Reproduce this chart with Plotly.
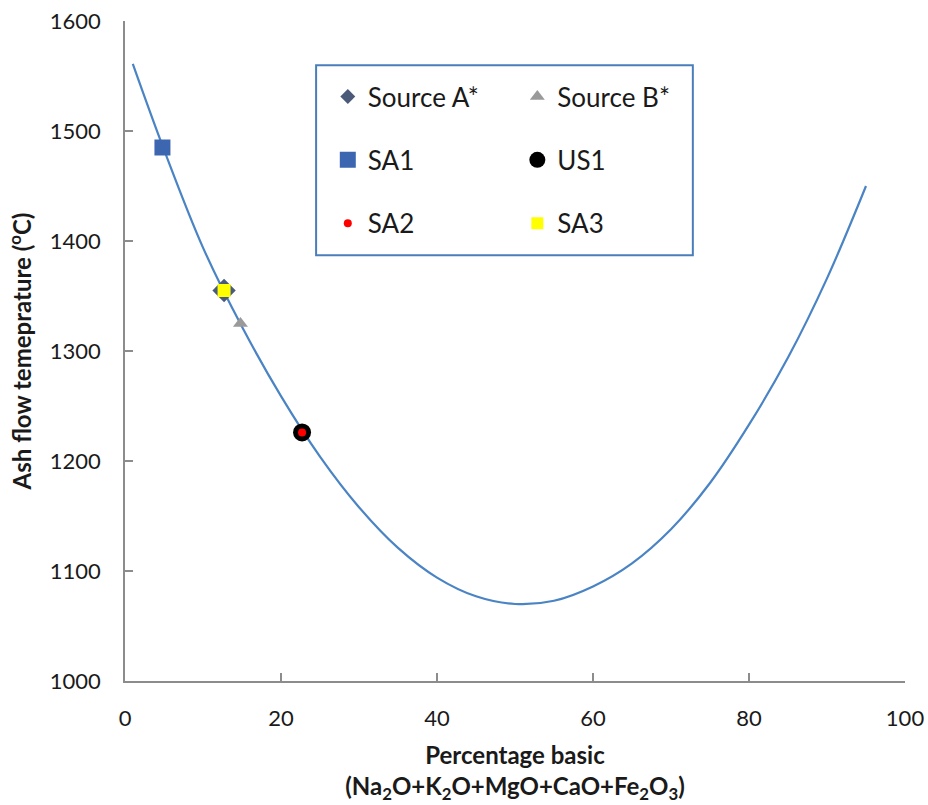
import plotly.graph_objects as go

# Curve
curve_x = [1, 5, 10, 15, 20, 25, 30, 35, 40, 45, 50, 55, 60, 65, 70, 75, 80, 85, 90, 95]
curve_y = [1561, 1483, 1394, 1322, 1259, 1204, 1158, 1121, 1094, 1077, 1070, 1073, 1086, 1107, 1138, 1180, 1233, 1294, 1366, 1450]

# Sample points
names = ["Source A*", "Source B*", "SA1", "US1", "SA2", "SA3"]
pts_x = [12.7, 14.8, 4.8, 22.7, 22.7, 12.7]
pts_y = [1355, 1325, 1485, 1226, 1226, 1355]

styles = {
    "Source A*": dict(symbol="diamond", size=18, lsize=11.5, color="#4a5a78", legend="legend"),
    "Source B*": dict(symbol="triangle-up", size=13, lsize=13, color="#9a9a9a", legend="legend2"),
    "SA1": dict(symbol="square", size=16, lsize=16, color="#3d66b0", legend="legend"),
    "US1": dict(symbol="circle", size=18, lsize=16, color="#000000", legend="legend2"),
    "SA2": dict(symbol="circle", size=8, lsize=8, color="#ff0000", legend="legend"),
    "SA3": dict(symbol="square", size=13, lsize=12, color="#ffff00", legend="legend2"),
}

FONT = "Lato"
TXT = "#1a1a1a"
fig = go.Figure()
fig.add_trace(go.Scatter(x=curve_x, y=curve_y, mode="lines",
                         line=dict(color="#4a84c4", width=2.2, shape="spline", smoothing=1.0),
                         showlegend=False, hoverinfo="skip"))
for n, xv, yv in zip(names, pts_x, pts_y):
    s = styles[n]
    fig.add_trace(go.Scatter(x=[xv], y=[yv], mode="markers", name=n, showlegend=False,
                             marker=dict(symbol=s["symbol"], size=s["size"], color=s["color"],
                                         line=dict(width=0))))
# legend entries
for n in names:
    s = styles[n]
    fig.add_trace(go.Scatter(x=[None], y=[None], mode="markers", name=n, legend=s["legend"], legendgroup=n,
                             marker=dict(symbol=s["symbol"], size=s["lsize"], color=s["color"],
                                         line=dict(width=0))))

axis_common = dict(showgrid=False, zeroline=False, showline=True, linecolor="#8c8c8c", linewidth=1.5,
                   ticks="inside", ticklen=8, tickcolor="#8c8c8c", tickwidth=1.5, automargin=False,
                   tickfont=dict(family=FONT, size=22, color=TXT))

legend_common = dict(xanchor="left", yanchor="top", bgcolor="rgba(0,0,0,0)",
                     font=dict(family=FONT, size=26, color=TXT), tracegroupgap=26.5, itemsizing="trace")

fig.update_layout(
    width=928, height=805,
    margin=dict(l=125, r=23, t=21, b=124),
    paper_bgcolor="white", plot_bgcolor="white",
    xaxis=dict(range=[0, 100], tickvals=[0, 20, 40, 60, 80, 100], ticklabelstandoff=17,
               title=dict(text="<b>Percentage basic<br>(Na<sub>2</sub>O+K<sub>2</sub>O+MgO+CaO+Fe<sub>2</sub>O<sub>3</sub>)</b>",
                          font=dict(family=FONT, size=24, color=TXT), standoff=17),
               **axis_common),
    yaxis=dict(range=[1000, 1600], tickvals=[1000, 1100, 1200, 1300, 1400, 1500, 1600], ticklabelstandoff=18,
               title=dict(text="<b>Ash flow temeprature (<sup>o</sup>C)</b>",
                          font=dict(family=FONT, size=24, color=TXT), standoff=11),
               **axis_common),
    legend=dict(x=0.260, y=0.921, **legend_common),
    legend2=dict(x=0.503, y=0.921, **legend_common),
    shapes=[dict(type="rect", xref="paper", yref="paper", x0=0.245, x1=0.728, y0=0.645, y1=0.933,
                 line=dict(color="#4a7ebb", width=2), fillcolor="rgba(0,0,0,0)", layer="above")],
)

fig.write_html("out.html", config={"displayModeBar": False},
               post_script="document.body.style.margin='0px';document.body.style.overflow='hidden';")
